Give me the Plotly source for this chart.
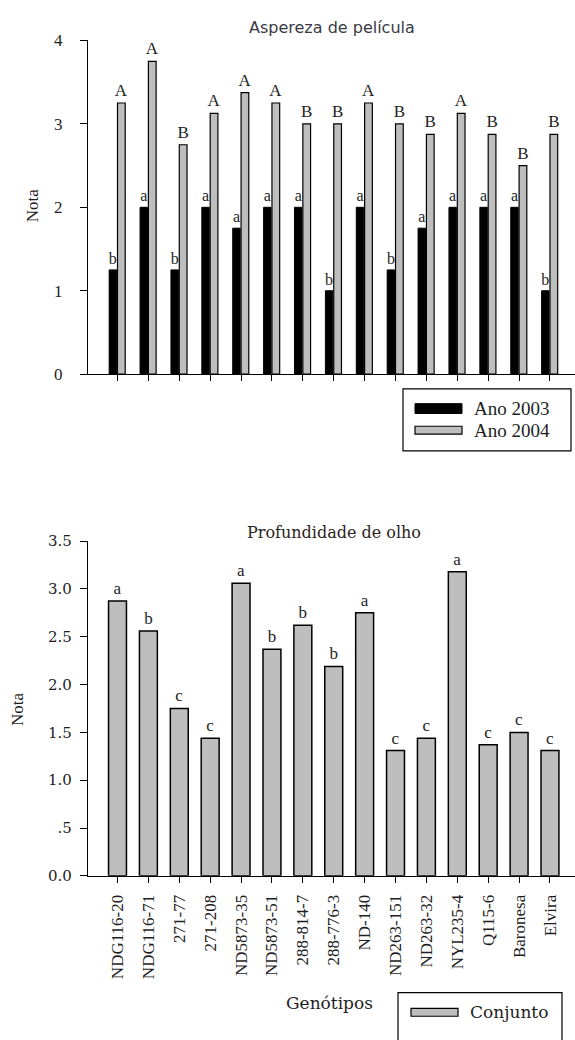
import plotly.graph_objects as go

# ---- data ----
genotipos = ["NDG116-20", "NDG116-71", "271-77", "271-208", "ND5873-35", "ND5873-51",
             "288-814-7", "288-776-3", "ND-140", "ND263-151", "ND263-32", "NYL235-4",
             "Q115-6", "Baronesa", "Elvira"]

ano_2003 = [1.25, 2.0, 1.25, 2.0, 1.75, 2.0, 2.0, 1.0, 2.0, 1.25, 1.75, 2.0, 2.0, 2.0, 1.0]
letras_2003 = ["b", "a", "b", "a", "a", "a", "a", "b", "a", "b", "a", "a", "a", "a", "b"]

ano_2004 = [3.25, 3.75, 2.75, 3.125, 3.375, 3.25, 3.0, 3.0, 3.25, 3.0, 2.875, 3.125, 2.875, 2.5, 2.875]
letras_2004 = ["A", "A", "B", "A", "A", "A", "B", "B", "A", "B", "B", "A", "B", "B", "B"]

conjunto = [2.875, 2.56, 1.75, 1.44, 3.06, 2.37, 2.62, 2.19, 2.75, 1.31, 1.44, 3.18, 1.37, 1.50, 1.31]
letras_conjunto = ["a", "b", "c", "c", "a", "b", "b", "b", "a", "c", "c", "a", "c", "c", "c"]

ticks_top = [0, 1, 2, 3, 4]
ticks_bottom = [0, 0.5, 1.0, 1.5, 2.0, 2.5, 3.0, 3.5]
ticks_bottom_text = ["0.0", ".5", "1.0", "1.5", "2.0", "2.5", "3.0", "3.5"]

series_names = ["Ano 2003", "Ano 2004", "Conjunto"]

# ---- styling ----
W, H = 575, 1040
GRAY = "#bebebe"
INK = "#1e1e1e"
SERIF = "Liberation Serif"
SERIF_WIDE = "DejaVu Serif"


def px(x):
    return x / W


def py(y):
    return 1 - y / H


fig = go.Figure()

fig.add_trace(go.Bar(
    x=genotipos, y=ano_2003, name=series_names[0], xaxis="x", yaxis="y",
    width=0.24, offset=-0.27,
    marker=dict(color="black", line=dict(color="black", width=1)),
    text=letras_2003, textposition="outside", cliponaxis=False, constraintext="none",
    textfont=dict(family=SERIF, size=16, color=INK),
    showlegend=False,
))
fig.add_trace(go.Bar(
    x=genotipos, y=ano_2004, name=series_names[1], xaxis="x", yaxis="y",
    width=0.25, offset=0.0,
    marker=dict(color=GRAY, line=dict(color="black", width=1.2)),
    text=letras_2004, textposition="outside", cliponaxis=False, constraintext="none",
    textfont=dict(family=SERIF, size=17, color=INK),
    showlegend=False,
))
fig.add_trace(go.Bar(
    x=genotipos, y=conjunto, name=series_names[2], xaxis="x2", yaxis="y2",
    width=0.58,
    marker=dict(color=GRAY, line=dict(color="black", width=1.5)),
    text=letras_conjunto, textposition="outside", cliponaxis=False, constraintext="none",
    textfont=dict(family=SERIF, size=17, color=INK),
    showlegend=False,
))

xrange_ = [-0.955, 14.81]
axis_common = dict(showline=True, linecolor="black", linewidth=1.2, showgrid=False,
                   zeroline=False, ticks="outside", tickcolor="black", tickwidth=1.2)

fig.update_layout(
    width=W, height=H,
    margin=dict(l=0, r=0, t=0, b=0),
    paper_bgcolor="white", plot_bgcolor="white",
    barmode="overlay",
    showlegend=False,
    xaxis=dict(domain=[px(88), 1.0], anchor="y", type="category",
               categoryorder="array", categoryarray=genotipos, range=xrange_,
               showticklabels=False, ticklen=6, **axis_common),
    yaxis=dict(domain=[py(372), py(32)], anchor="x", range=[0, 4],
               tickvals=ticks_top, ticklen=7, ticklabelstandoff=14,
               tickfont=dict(family=SERIF, size=17, color=INK), **axis_common),
    xaxis2=dict(domain=[px(88), 1.0], anchor="y2", type="category",
                categoryorder="array", categoryarray=genotipos, range=xrange_,
                tickangle=-90, ticklen=6, ticklabelstandoff=5,
                tickfont=dict(family=SERIF, size=17, color=INK), **axis_common),
    yaxis2=dict(domain=[py(883), py(542)], anchor="x2", range=[0, 3.5],
                tickvals=ticks_bottom, ticktext=ticks_bottom_text, ticklen=7,
                ticklabelstandoff=5,
                tickfont=dict(family=SERIF_WIDE, size=15, color=INK), **axis_common),
)

# ---- titles ----
annotations = [
    dict(text="Aspereza de película", x=px(332), y=py(19), font=dict(family="DejaVu Sans", size=16, color="#3a3a44")),
    dict(text="Nota", x=px(32), y=py(200), textangle=-90, font=dict(family=SERIF, size=17, color=INK)),
    dict(text="Profundidade de olho", x=px(334), y=py(533), font=dict(family=SERIF_WIDE, size=16, color="#2a2420")),
    dict(text="Nota", x=px(18), y=py(713), textangle=-90, font=dict(family=SERIF, size=17, color=INK)),
    dict(text="Genótipos", x=px(329), y=py(1012), font=dict(family=SERIF_WIDE, size=17, color=INK)),
]
for a in annotations:
    a.update(xref="paper", yref="paper", showarrow=False, xanchor="center", yanchor="middle")

# ---- legends ----
shapes = [
    dict(type="rect", x0=px(403), x1=px(571), y0=py(450), y1=py(387),
         line=dict(color="black", width=1.2), fillcolor="white"),
    dict(type="rect", x0=px(415), x1=px(462), y0=py(412), y1=py(402),
         line=dict(color="black", width=1), fillcolor="black"),
    dict(type="rect", x0=px(415), x1=px(462), y0=py(433), y1=py(425),
         line=dict(color="black", width=1.2), fillcolor=GRAY),
    dict(type="rect", x0=px(398), x1=px(562), y0=py(1060), y1=py(1002),
         line=dict(color="black", width=1.2), fillcolor="white"),
    dict(type="rect", x0=px(411), x1=px(458), y0=py(1026), y1=py(1018),
         line=dict(color="black", width=1.2), fillcolor=GRAY),
]
for s in shapes:
    s.update(xref="paper", yref="paper", layer="above")

legend_text = [
    (series_names[0], 472, 407, SERIF, 19),
    (series_names[1], 472, 429, SERIF, 19),
    (series_names[2], 468, 1022, SERIF_WIDE, 17),
]
for name, lx, ly, fam, size in legend_text:
    annotations.append(dict(text=name, x=px(lx), y=py(ly), xref="paper", yref="paper",
                            showarrow=False, xanchor="left", yanchor="middle",
                            font=dict(family=fam, size=size, color=INK)))

fig.update_layout(annotations=annotations, shapes=shapes)

fig.write_html("out.html")
